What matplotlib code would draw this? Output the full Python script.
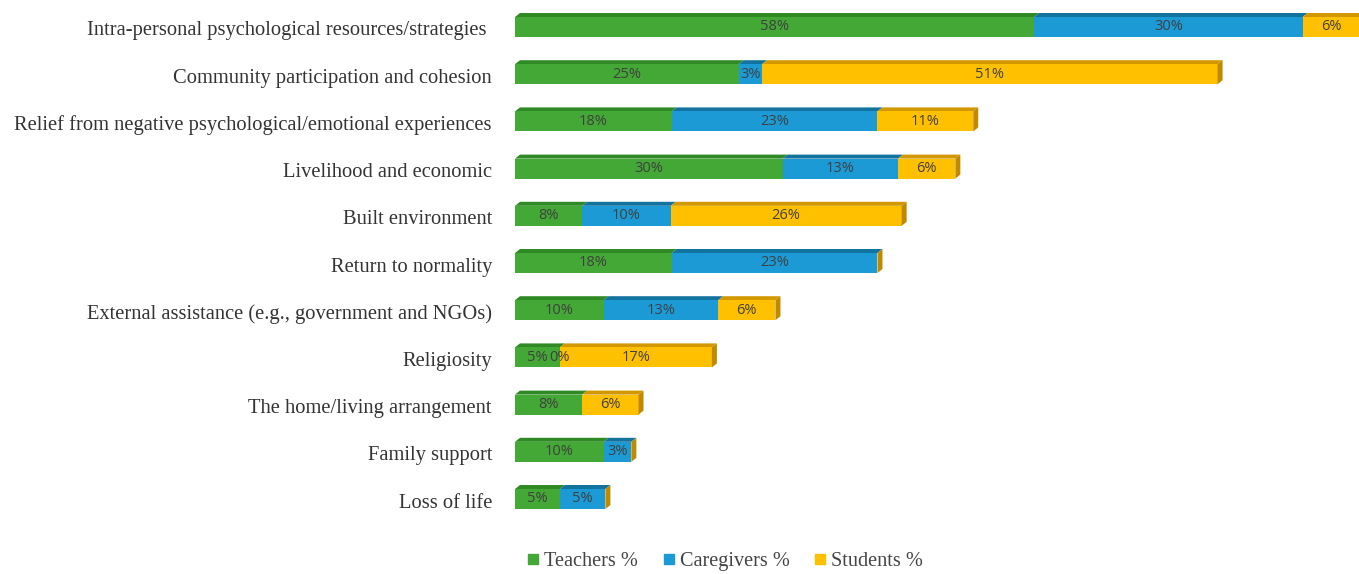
import numpy as np
import matplotlib.pyplot as plt
from matplotlib.patches import Polygon
from matplotlib.lines import Line2D

categories = [
    "Intra-personal psychological resources/strategies ",
    "Community participation and cohesion",
    "Relief from negative psychological/emotional experiences",
    "Livelihood and economic",
    "Built environment",
    "Return to normality",
    "External assistance (e.g., government and NGOs)",
    "Religiosity",
    "The home/living arrangement",
    "Family support",
    "Loss of life",
]
teachers = [58, 25, 17.5, 29.9, 7.5, 17.5, 9.9, 5, 7.5, 9.9, 5]
caregivers = [30, 2.6, 23, 12.9, 9.9, 23, 12.8, 0, np.nan, 3.1, 5.1]
students = [6.4, 50.9, 10.7, 6.4, 25.8, np.nan, 6.4, 17, 6.3, np.nan, np.nan]
series_names = ["Teachers %", "Caregivers %", "Students %"]

front = ["#43a835", "#1b9ad6", "#ffc000"]
topc = ["#2f8a25", "#13739f", "#d39700"]
side = "#c08a00"

W, H = 1359, 574
fig = plt.figure(figsize=(W / 100, H / 100), dpi=100)
ax = fig.add_axes([515 / W, 0, 1 - 515 / W, 1])

px_x = 8.95      # pixels per percent
row = 47.2       # pixels per row
ax.set_xlim(0, (W - 515) / px_x)
ax.set_ylim((H - 27) / row, -27 / row)
ax.axis("off")

h = 20 / row
dx = 5 / px_x
dy = 4 / row
y = np.arange(len(categories))

data = [teachers, caregivers, students]
left = np.zeros(len(categories))
for k, vals in enumerate(data):
    v = np.nan_to_num(np.array(vals, dtype=float))
    ax.barh(y, v, left=left, height=h, color=front[k], edgecolor="none", zorder=2)
    for i in range(len(y)):
        if np.isnan(vals[i]):
            continue
        x0, x1 = left[i], left[i] + v[i]
        t = y[i] - h / 2
        if v[i] > 0:
            ax.add_patch(Polygon([(x0, t), (x1, t), (x1 + dx, t - dy), (x0 + dx, t - dy)],
                                 closed=True, color=topc[k], lw=0, zorder=1))
        ax.text((x0 + x1) / 2, y[i], f"{int(vals[i] + 0.5)}%", ha="center", va="center",
                fontsize=10.5, color="#404040", family="Open Sans", zorder=4)
    left = left + v

for i in range(len(y)):
    xe = left[i]
    t, b = y[i] - h / 2, y[i] + h / 2
    ax.add_patch(Polygon([(xe, t), (xe + dx, t - dy), (xe + dx, b - dy), (xe, b)],
                         closed=True, color=side, lw=0, zorder=3))
    # category labels sit a few pixels below the bar centre
    fig.text(492 / W, 1 - (31 + i * row) / H, categories[i], ha="right", va="center",
             fontsize=14.8, family="Liberation Serif", color="#333333")

handles = [Line2D([], [], marker="s", ls="none", markersize=7.5, color=c) for c in front]
fig.legend(handles, series_names, loc="center", bbox_to_anchor=(725 / W, 1 - 561 / H),
           ncol=3, frameon=False, prop={"family": "Liberation Serif", "size": 14.6},
           handlelength=0.6, handletextpad=0.25, columnspacing=1.2, labelcolor="#444444",
           borderpad=0.1)

fig.savefig("out.png", dpi=100)
